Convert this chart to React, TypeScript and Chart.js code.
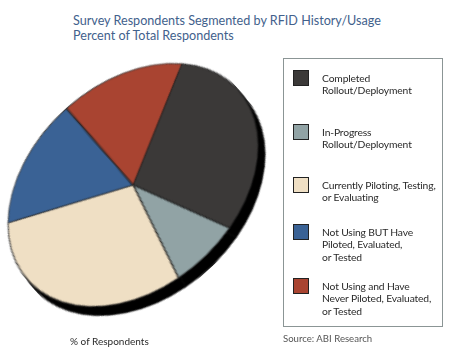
import React, { useEffect, useRef } from "react";
import { Chart, registerables } from "chart.js";

Chart.register(...registerables);

const categories = [
  "Completed\nRollout/Deployment",
  "In-Progress\nRollout/Deployment",
  "Currently Piloting, Testing,\nor Evaluating",
  "Not Using BUT Have\nPiloted, Evaluated,\nor Tested",
  "Not Using and Have\nNever Piloted, Evaluated,\nor Tested",
];
const values = [29.6, 8.1, 31.1, 15.9, 15.3];
const colors = ["#3b3938", "#91a3a5", "#efdfc4", "#3a6295", "#a94431"];
const titleLines = ["Survey Respondents Segmented by RFID History/Usage", "Percent of Total Respondents"];
const axisLabel = "% of Respondents";
const sourceText = "Source: ABI Research";

const FONT = "Lato, 'Open Sans', sans-serif";

export default function App() {
  const ref = useRef<HTMLCanvasElement | null>(null);

  useEffect(() => {
    if (!ref.current) return;
    const chart = new Chart(ref.current, {
      type: "pie",
      data: {
        labels: categories,
        datasets: [
          {
            data: values,
            backgroundColor: colors,
            borderColor: "#1e1e1e",
            borderWidth: 0.8,
          },
        ],
      },
      options: {
        responsive: false,
        animation: false,
        rotation: 56.2,
        events: [],
        layout: { padding: 0 },
        plugins: { legend: { display: false }, tooltip: { enabled: false }, title: { display: false } },
      },
    });
    return () => chart.destroy();
  }, []);

  const S = 200;
  const R = 99.6;
  const cx = 133;
  const cy = 184.5;

  return (
    <div style={{ position: "absolute", left: 0, top: 0, width: 450, height: 360, background: "#fff", overflow: "hidden", fontFamily: FONT }}>
      <div style={{ position: "absolute", left: 73, top: 13, color: "#42618c", fontSize: 12.6, lineHeight: "15px", whiteSpace: "nowrap" }}>
        {titleLines.map((t, i) => (
          <div key={i}>{t}</div>
        ))}
      </div>
      <div style={{ position: "absolute", left: 0, top: 0, width: 450, height: 360, filter: "drop-shadow(7px 9px 0 #000)" }}>
        <canvas
          ref={ref}
          width={S}
          height={S}
          style={{
            position: "absolute",
            left: cx - S / 2,
            top: cy - S / 2,
            width: S,
            height: S,
            transform: `rotate(-42.5deg) scale(${141.8 / R}, ${101.4 / R})`,
            transformOrigin: "50% 50%",
          }}
        />
      </div>
      <div style={{ position: "absolute", left: 283, top: 58, width: 160, height: 269, border: "1px solid #8b9595", boxSizing: "border-box" }} />
      {categories.map((c, i) => {
        const tops = [70, 124, 177, 224, 278];
        return (
          <React.Fragment key={i}>
            <div style={{ position: "absolute", left: 293, top: tops[i], width: 16, height: 16, background: colors[i], border: "1.5px solid #222", boxSizing: "border-box" }} />
            <div style={{ position: "absolute", left: 322, top: tops[i] + 1.5, fontSize: 10.3, letterSpacing: "-0.15px", lineHeight: "12.5px", color: "#2a2a2a", whiteSpace: "pre" }}>{c}</div>
          </React.Fragment>
        );
      })}
      <div style={{ position: "absolute", left: 70, top: 335, fontSize: 10, color: "#2a2a2a", whiteSpace: "nowrap" }}>{axisLabel}</div>
      <div style={{ position: "absolute", left: 283, top: 333, fontSize: 9.6, color: "#555", whiteSpace: "nowrap" }}>{sourceText}</div>
    </div>
  );
}
